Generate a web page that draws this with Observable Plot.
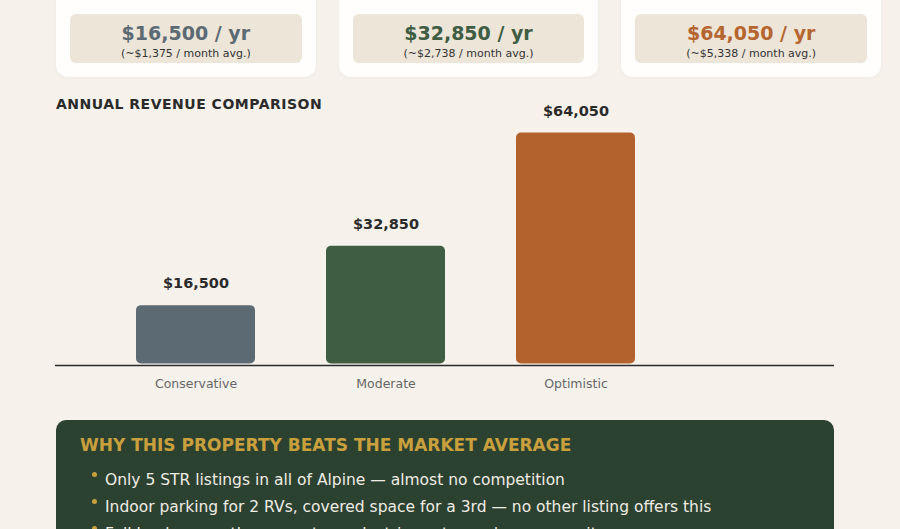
<!DOCTYPE html>
<html>
<head>
<meta charset="utf-8">
<script src="https://cdn.jsdelivr.net/npm/d3@7"></script>
<script src="https://cdn.jsdelivr.net/npm/@observablehq/plot@0.6"></script>
<style>
  html, body { margin: 0; padding: 0; }
  body { width: 900px; height: 529px; overflow: hidden; background: #f6f2eb; position: relative; font-family: "DejaVu Sans", sans-serif; color: #2a2a2a; }
  .cards { position: absolute; left: 56px; top: -60px; width: 825px; display: flex; gap: 23px; }
  .card { flex: 1; height: 137px; background: #fffefc; border-radius: 12px; position: relative; box-shadow: 0 1px 4px rgba(0,0,0,0.04); }
  .inner { position: absolute; left: 14px; right: 14px; bottom: 14px; height: 49px; background: #ece5d8; border-radius: 6px; text-align: center; }
  .val { position: absolute; left: 0; right: 0; top: 6px; font-size: 19px; font-weight: bold; line-height: 26px; }
  .sub { position: absolute; left: 0; right: 0; top: 33px; font-size: 11px; line-height: 14px; color: #333; }
  .heading { position: absolute; left: 56px; top: 95px; font-size: 14px; font-weight: bold; letter-spacing: 0.5px; line-height: 18px; color: #2a2a2a; }
  #chart { position: absolute; left: 0; top: 90px; }
  .panel { position: absolute; left: 56px; top: 420px; width: 778px; height: 160px; background: #2c4231; border-radius: 10px; }
  .panel h3 { margin: 0; position: absolute; left: 24px; top: 14px; font-size: 17px; line-height: 22px; color: #c9a03c; font-weight: bold; }
  .panel ul { list-style: none; margin: 0; padding: 0; position: absolute; left: 49px; top: 46.5px; }
  .panel li { position: relative; font-size: 15.5px; line-height: 27px; color: #f0ece4; white-space: nowrap; }
  .panel li::before { content: ""; position: absolute; left: -13px; top: 5.5px; width: 5px; height: 5px; border-radius: 50%; background: #c9a03c; }
</style>
</head>
<body>
<div class="cards" id="cards"></div>
<div class="heading">ANNUAL REVENUE COMPARISON</div>
<div id="chart"></div>
<div class="panel">
  <h3 id="panelTitle"></h3>
  <ul id="bullets"></ul>
</div>
<script>
const scenarios = ["Conservative", "Moderate", "Optimistic"];
const annualRevenue = [16500, 32850, 64050];
const barColors = ["#5c6a74", "#3e5d43", "#b3622e"];
const valueColors = ["#5c6a74", "#3e5d43", "#b5652f"];
const panelTitle = "WHY THIS PROPERTY BEATS THE MARKET AVERAGE";
const bulletPoints = [
  "Only 5 STR listings in all of Alpine — almost no competition",
  "Indoor parking for 2 RVs, covered space for a 3rd — no other listing offers this",
  "Full hookups on the property — electric, water and sewer on site"
];

const fmt = d3.format(",");
const data = scenarios.map((s, i) => ({scenario: s, value: annualRevenue[i], color: barColors[i]}));

// Cards
const cards = document.getElementById("cards");
data.forEach((d, i) => {
  const c = document.createElement("div");
  c.className = "card";
  c.innerHTML = `<div class="inner"><div class="val" style="color:${valueColors[i]}">$${fmt(d.value)} / yr</div>` +
    `<div class="sub">(~$${fmt(Math.round(d.value / 12))} / month avg.)</div></div>`;
  cards.appendChild(c);
});

document.getElementById("panelTitle").textContent = panelTitle;
const ul = document.getElementById("bullets");
bulletPoints.forEach(t => { const li = document.createElement("li"); li.textContent = t; ul.appendChild(li); });

const chart = Plot.plot({
  width: 900,
  height: 310,
  marginLeft: 55,
  marginRight: 66,
  marginTop: 21,
  marginBottom: 35,
  style: {fontFamily: "DejaVu Sans, sans-serif", background: "transparent", overflow: "visible"},
  x: {domain: scenarios, range: [63.3, 707.3], padding: 0.376, label: null},
  y: {domain: [0, 70000], axis: null},
  marks: [
    Plot.barY(data, {x: "scenario", y: "value", fill: "color", rx: 5, insetBottom: 1.5}),
    Plot.ruleY([0], {stroke: "#2a2a2a", strokeWidth: 1.5}),
    Plot.text(data, {x: "scenario", y: "value", text: d => "$" + fmt(d.value), dy: -22, lineAnchor: "middle", fontSize: 14.5, fontWeight: "bold", fill: "#2a2a2a"}),
    Plot.axisX({tickSize: 0, tickPadding: 14, fontSize: 12.5, color: "#666", label: null})
  ]
});
document.getElementById("chart").appendChild(chart);
</script>
</body>
</html>
